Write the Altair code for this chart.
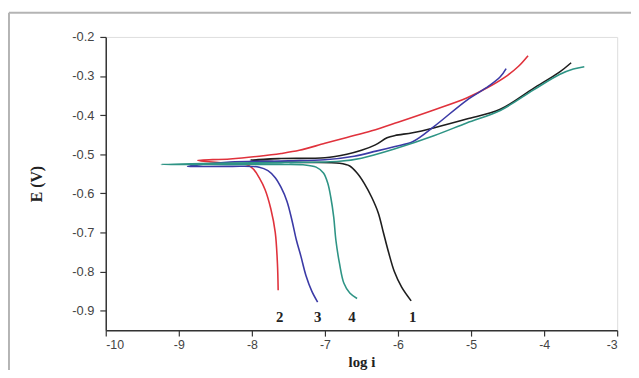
import altair as alt
import pandas as pd

# ---- data (log i, E in V), path order along each curve ----
c1_logi = [-5.82, -5.95, -6.05, -6.13, -6.20, -6.27, -6.36, -6.46, -6.56, -6.66, -6.8, -7.3, -7.7, -8.02,
           -7.6, -7.0, -6.7, -6.5, -6.31, -6.15, -6.04, -5.8, -5.5, -5.06, -4.6, -4.15, -3.79, -3.63]
c1_E = [-0.875, -0.840, -0.800, -0.750, -0.700, -0.650, -0.610, -0.575, -0.548, -0.530, -0.523, -0.521, -0.519, -0.515,
        -0.511, -0.509, -0.500, -0.490, -0.476, -0.458, -0.452, -0.445, -0.432, -0.410, -0.385, -0.332, -0.290, -0.266]

c2_logi = [-7.64, -7.65, -7.68, -7.74, -7.82, -7.90, -7.97, -8.05, -8.4, -8.74,
           -8.3, -7.9, -7.6, -7.35, -7.0, -6.7, -6.36, -6.0, -5.5, -5.06, -4.76, -4.5, -4.35, -4.22]
c2_E = [-0.848, -0.780, -0.700, -0.640, -0.590, -0.560, -0.540, -0.528, -0.522, -0.516,
        -0.512, -0.505, -0.498, -0.490, -0.472, -0.457, -0.440, -0.418, -0.386, -0.356, -0.328, -0.298, -0.275, -0.248]

c3_logi = [-7.10, -7.18, -7.26, -7.33, -7.39, -7.45, -7.52, -7.60, -7.68, -7.78, -7.9, -8.3, -8.88,
           -8.3, -7.5, -7.0, -6.6, -6.3, -6.04, -5.8, -5.5, -5.06, -4.76, -4.6, -4.52]
c3_E = [-0.878, -0.850, -0.810, -0.760, -0.720, -0.670, -0.620, -0.585, -0.560, -0.542, -0.533, -0.531, -0.531,
        -0.520, -0.517, -0.514, -0.505, -0.492, -0.480, -0.468, -0.428, -0.362, -0.326, -0.302, -0.281]

c4_logi = [-6.56, -6.66, -6.74, -6.80, -6.85, -6.88, -6.92, -6.96, -7.02, -7.12, -7.3, -7.6, -8.5, -9.24,
           -8.5, -7.5, -6.8, -6.5, -6.04, -5.5, -5.06, -4.6, -4.15, -3.79, -3.6, -3.45]
c4_E = [-0.869, -0.855, -0.830, -0.780, -0.720, -0.660, -0.610, -0.575, -0.548, -0.533, -0.527, -0.526, -0.526, -0.526,
        -0.523, -0.521, -0.518, -0.510, -0.486, -0.452, -0.420, -0.388, -0.336, -0.296, -0.282, -0.276]

series_names = ["1", "2", "3", "4"]
series_colors = ["#1e1e1e", "#e0323c", "#3b3aa6", "#2e9485"]

label_text = ["2", "3", "4", "1"]
label_logi = [-7.62, -7.10, -6.63, -5.80]
label_E = [-0.917, -0.917, -0.917, -0.917]

x_ticks = [-10 + 0.5 * k for k in range(15)]
y_ticks = [round(-0.2 - 0.05 * k, 2) for k in range(15)]

rows = []
for name, xs, ys in zip(series_names, [c1_logi, c2_logi, c3_logi, c4_logi], [c1_E, c2_E, c3_E, c4_E]):
    for i, (a, b) in enumerate(zip(xs, ys)):
        rows.append({"series": name, "order": i, "logi": a, "E": b})
df = pd.DataFrame(rows)
lab = pd.DataFrame({"t": label_text, "logi": label_logi, "E": label_E})

W, H = 518, 297

x_scale = alt.Scale(domain=[-10, -3], nice=False, zero=False)
y_scale = alt.Scale(domain=[-0.95, -0.2], nice=False, zero=False)

x_axis = alt.Axis(
    title="log i", values=x_ticks,
    labelExpr="datum.value % 1 == 0 ? '-' + format(abs(datum.value), 'd') : ''",
    tickSize={"condition": {"test": "datum.value % 1 == 0", "value": 6}, "value": 3},
    grid=False, domainColor="#333", tickColor="#333", domainWidth=1.5, tickWidth=1.2,
    labelFont="Liberation Sans", labelFontSize=12.5, labelColor="#444", labelPadding=3,
    titleFont="Liberation Serif", titleFontSize=15, titleFontWeight="bold", titleColor="#222",
    titlePadding=3,
)
y_axis = alt.Axis(
    title="E (V)", values=y_ticks,
    labelExpr="abs(round(datum.value * 10) - datum.value * 10) < 0.001 ? '-' + format(abs(datum.value), '.1f') : ''",
    tickSize={"condition": {"test": "abs(round(datum.value * 10) - datum.value * 10) < 0.001", "value": 6}, "value": 3},
    grid=False, domainColor="#333", tickColor="#333", domainWidth=1.5, tickWidth=1.2,
    labelFont="Liberation Sans", labelFontSize=13, labelColor="#444", labelPadding=6,
    titleFont="Liberation Serif", titleFontSize=16, titleFontWeight="bold", titleColor="#222",
    titlePadding=28,
)

lines = alt.Chart(df).mark_line(strokeWidth=1.6, interpolate="catmull-rom").encode(
    x=alt.X("logi:Q", scale=x_scale, axis=x_axis),
    y=alt.Y("E:Q", scale=y_scale, axis=y_axis),
    color=alt.Color("series:N", scale=alt.Scale(domain=series_names, range=series_colors), legend=None),
    order="order:Q",
)

labels = alt.Chart(lab).mark_text(
    font="Liberation Serif", fontSize=15, fontWeight="bold", color="#222"
).encode(x=alt.X("logi:Q", scale=x_scale), y=alt.Y("E:Q", scale=y_scale), text="t:N")

# decorative grey frame around the figure (image border)
frame_top = alt.Chart(pd.DataFrame({"a": [0]})).mark_rule(color="#b4b4b4", strokeWidth=2).encode(
    x=alt.value(-98), x2=alt.value(540), y=alt.value(-24.5))
frame_left = alt.Chart(pd.DataFrame({"a": [0]})).mark_rule(color="#b4b4b4", strokeWidth=2).encode(
    x=alt.value(-98), y=alt.value(-24.5), y2=alt.value(360))

chart = alt.layer(frame_top, frame_left, lines, labels).properties(
    width=W, height=H,
    autosize=alt.AutoSizeParams(type="none"),
    padding={"left": 99, "top": 27, "right": 14, "bottom": 38},
).configure_view(stroke=None).configure(background="white")

chart.save("out.html", embed_options={"renderer": "svg", "actions": False})
